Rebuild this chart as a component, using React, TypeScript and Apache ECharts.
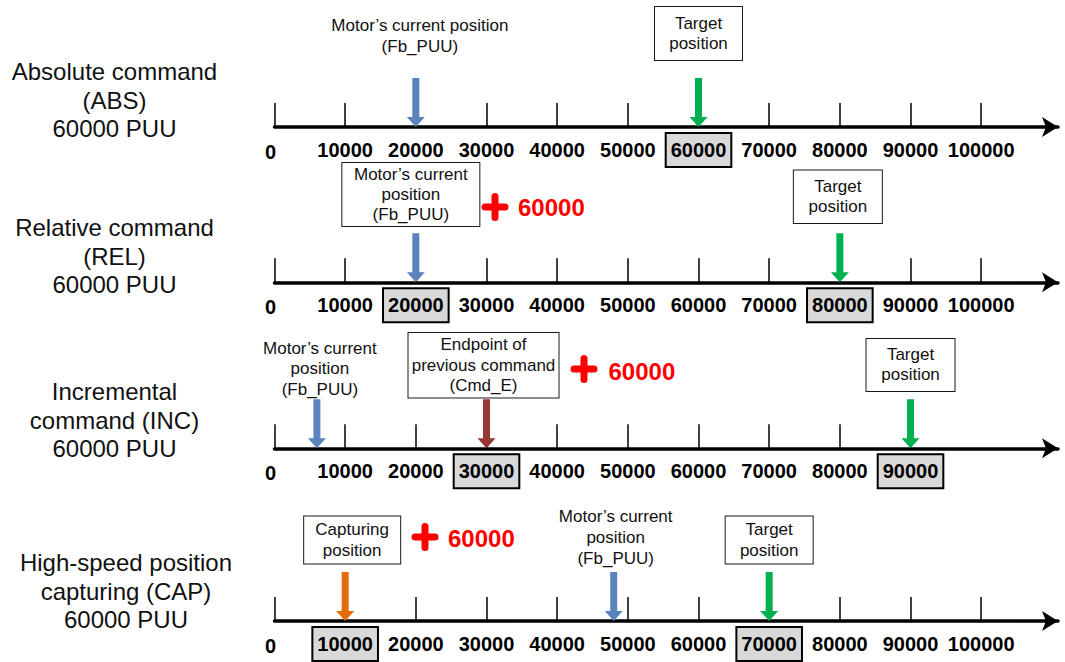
import React, { useEffect, useRef } from 'react';
import * as echarts from 'echarts';

// ---------- data ----------
const TICKS = [0, 10000, 20000, 30000, 40000, 50000, 60000, 70000, 80000, 90000, 100000];
const ROW_TITLES = [
  'Absolute command\n(ABS)\n60000 PUU',
  'Relative command\n(REL)\n60000 PUU',
  'Incremental\ncommand (INC)\n60000 PUU',
  'High-speed position\ncapturing (CAP)\n60000 PUU',
];
const HIGHLIGHTED = [[60000], [20000, 80000], [30000, 90000], [10000, 70000]];
const MARKER_VALUES = [
  [20000, 60000],
  [20000, 80000],
  [6000, 30000, 90000],
  [10000, 48000, 70000],
];
const MARKER_KINDS = [
  ['current', 'target'],
  ['current', 'target'],
  ['current', 'endpoint', 'target'],
  ['capture', 'current', 'target'],
];
const MARKER_TEXTS = [
  ['Motor’s current position\n(Fb_PUU)', 'Target\nposition'],
  ['Motor’s current\nposition\n(Fb_PUU)', 'Target\nposition'],
  ['Motor’s current\nposition\n(Fb_PUU)', 'Endpoint of\nprevious command\n(Cmd_E)', 'Target\nposition'],
  ['Capturing\nposition', 'Motor’s current\nposition\n(Fb_PUU)', 'Target\nposition'],
];
const OFFSET_AMOUNT = 60000;

// ---------- layout & style ----------
const W = 1065;
const H = 662;
const FONT = "'Liberation Sans', Arial, sans-serif";
const AXIS_LEFT = 274.5;
const AXIS_WIDTH = 783.5;
const AXIS_MAX = 110870;
const AXIS_Y = [127, 282.3, 448.3, 621];
const TITLE_POS = [[114.5, 100], [114.5, 256], [114.5, 420], [126, 591]];
// [plusCx, plusCy, textLeft, textCy]
const PLUS_POS: (number[] | null)[] = [null, [495, 207, 518, 207.5], [584, 369, 608.5, 371], [425, 537, 448, 538]];
const LABEL_LAYOUT = [
  [
    { box: false, w: 0, lh: 21, padV: 0, dist: 21.5, dx: 4 },
    { box: true, w: 87, lh: 20, padV: 6.5, dist: 18, dx: 0 },
  ],
  [
    { box: true, w: 137, lh: 20, padV: 1.5, dist: 7.3, dx: -5 },
    { box: true, w: 88, lh: 20, padV: 6.3, dist: 10.3, dx: -2 },
  ],
  [
    { box: false, w: 0, lh: 20.4, padV: 0, dist: 0, dx: 3 },
    { box: true, w: 150, lh: 20.5, padV: 1.5, dist: 1.7, dx: -3 },
    { box: true, w: 88, lh: 20, padV: 6, dist: 8.4, dx: 0 },
  ],
  [
    { box: true, w: 96, lh: 21, padV: 2.5, dist: 8.4, dx: 7 },
    { box: false, w: 0, lh: 21, padV: 0, dist: 3.5, dx: 2 },
    { box: true, w: 87, lh: 21, padV: 2.5, dist: 8.4, dx: 0 },
  ],
];
const KIND_COLORS: Record<string, string> = {
  current: '#5B84BD',
  target: '#00B050',
  endpoint: '#953735',
  capture: '#E46C0A',
};
const ARROW = 'path://M5.5,0L12.5,0L12.5,39L18,39L9,49L0,39L5.5,39Z';

function buildOption() {
  const grid = AXIS_Y.map((y) => ({
    left: AXIS_LEFT,
    width: AXIS_WIDTH,
    top: y - 100,
    height: 100,
    containLabel: false,
    outerBoundsMode: 'none',
  }));

  const xAxis = AXIS_Y.map((_, i) => ({
    type: 'value',
    gridIndex: i,
    min: 0,
    max: AXIS_MAX,
    axisLine: {
      show: true,
      onZero: false,
      symbol: ['none', 'arrow'],
      symbolSize: [15, 16],
      lineStyle: { color: '#000', width: 3.5 },
    },
    axisTick: {
      show: true,
      inside: true,
      length: 24,
      customValues: TICKS,
      lineStyle: { color: '#000', width: 1.5 },
    },
    axisLabel: {
      show: true,
      customValues: TICKS,
      margin: 13,
      formatter: (v: number) => {
        if (HIGHLIGHTED[i].includes(v)) return `{hl|${v}}`;
        if (v === 0) return `{z|${v}}`;
        return `{n|${v}}`;
      },
      rich: {
        n: { fontSize: 20, fontWeight: 'bold', fontFamily: FONT, color: '#000', lineHeight: 20, padding: [6, 4] },
        z: { fontSize: 20, fontWeight: 'bold', fontFamily: FONT, color: '#000', lineHeight: 20, padding: [8, 8, 4, 0] },
        hl: {
          fontSize: 20, fontWeight: 'bold', fontFamily: FONT, color: '#000', lineHeight: 20,
          padding: [6, 4], backgroundColor: '#D9D9D9', borderColor: '#000', borderWidth: 2,
        },
      },
    },
    splitLine: { show: false },
  }));

  const yAxis = AXIS_Y.map((_, i) => ({ type: 'value', gridIndex: i, min: 0, max: 1, show: false }));

  const series = MARKER_VALUES.map((vals, i) => ({
    type: 'scatter',
    xAxisIndex: i,
    yAxisIndex: i,
    silent: true,
    clip: false,
    symbol: ARROW,
    symbolSize: [18, 49],
    symbolOffset: [0, '-50%'],
    emphasis: { disabled: true },
    itemStyle: { opacity: 1 },
    data: vals.map((v, j) => {
      const L = LABEL_LAYOUT[i][j];
      const text = MARKER_TEXTS[i][j];
      const label: any = {
        show: true,
        position: 'top',
        distance: L.dist,
        offset: [L.dx, 0],
        formatter: () => text,
        fontSize: 17,
        lineHeight: L.lh,
        fontFamily: FONT,
        color: '#111',
        align: 'center',
      };
      if (L.box) {
        label.width = L.w;
        label.padding = [L.padV, 0];
        label.borderColor = '#1a1a1a';
        label.borderWidth = 1;
        label.backgroundColor = '#fff';
      }
      return {
        value: [v, 0],
        itemStyle: { color: KIND_COLORS[MARKER_KINDS[i][j]], opacity: 1 },
        label,
      };
    }),
  }));

  const graphic: any[] = [];
  ROW_TITLES.forEach((t, i) => {
    graphic.push({
      type: 'text',
      silent: true,
      style: {
        text: t,
        x: TITLE_POS[i][0],
        y: TITLE_POS[i][1],
        fill: '#111',
        fontSize: 24,
        fontFamily: FONT,
        lineHeight: 28.5,
        align: 'center',
        verticalAlign: 'middle',
        textAlign: 'center',
        textVerticalAlign: 'middle',
      },
    });
  });
  PLUS_POS.forEach((p) => {
    if (!p) return;
    const [cx, cy, tx, ty] = p;
    graphic.push({
      type: 'line', silent: true,
      shape: { x1: cx - 10, y1: cy, x2: cx + 10, y2: cy },
      style: { stroke: '#FF0000', lineWidth: 7, lineCap: 'round' },
    });
    graphic.push({
      type: 'line', silent: true,
      shape: { x1: cx, y1: cy - 10.5, x2: cx, y2: cy + 10.5 },
      style: { stroke: '#FF0000', lineWidth: 7, lineCap: 'round' },
    });
    graphic.push({
      type: 'text', silent: true,
      style: {
        text: String(OFFSET_AMOUNT),
        x: tx,
        y: ty,
        fill: '#FF0000',
        fontSize: 24,
        fontWeight: 'bold',
        fontFamily: FONT,
        align: 'left',
        verticalAlign: 'middle',
        textAlign: 'left',
        textVerticalAlign: 'middle',
      },
    });
  });

  return {
    animation: false,
    backgroundColor: '#fff',
    grid,
    xAxis,
    yAxis,
    series,
    graphic,
  };
}

export default function App() {
  const ref = useRef<HTMLDivElement>(null);
  useEffect(() => {
    if (!ref.current) return;
    const chart = echarts.init(ref.current, undefined, { renderer: 'svg' });
    chart.setOption(buildOption() as any);
    return () => chart.dispose();
  }, []);
  return (
    <div
      ref={ref}
      style={{ position: 'absolute', left: 0, top: 0, width: W, height: H, background: '#fff' }}
    />
  );
}
